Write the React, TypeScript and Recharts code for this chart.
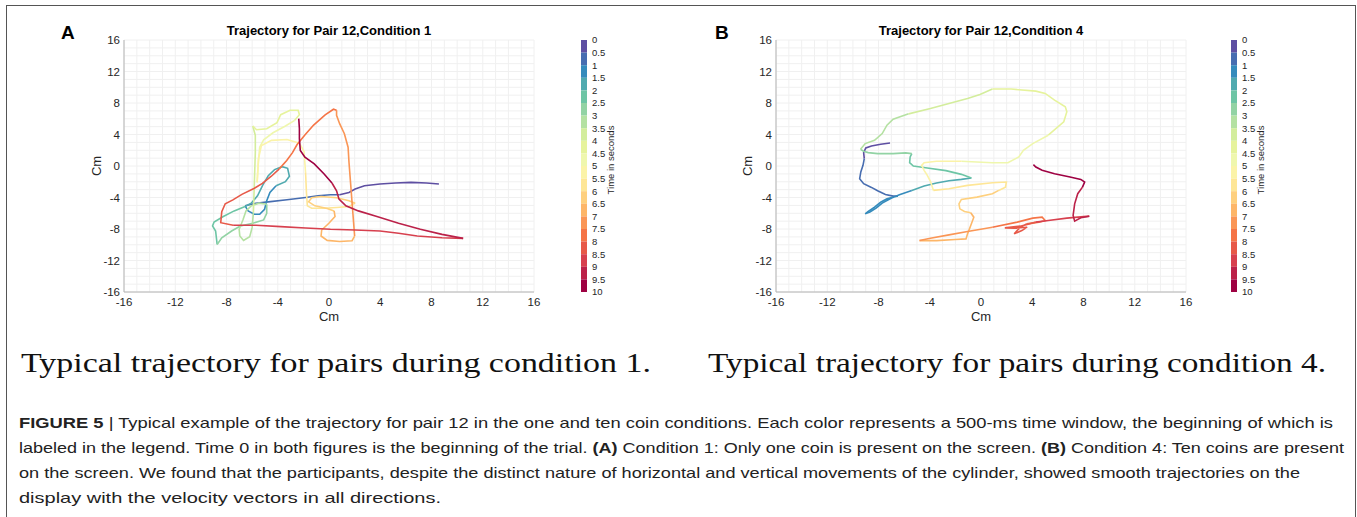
import React from 'react';
import { ScatterChart, Scatter, XAxis, YAxis, CartesianGrid, BarChart, Bar } from 'recharts';

type P = [number, number];

// time bands of the colour bar (seconds) and their colours
const timeLabels = [0, 0.5, 1, 1.5, 2, 2.5, 3, 3.5, 4, 4.5, 5, 5.5, 6, 6.5, 7, 7.5, 8, 8.5, 9, 9.5, 10];
const bandColors = [
  '#5e4fa2', '#476db0', '#358bbc', '#50aaaf', '#6dc5a5', '#92d3a4', '#b4e1a2', '#d3ed9c', '#e6f39c', '#eff7ad',
  '#fbf3a8', '#fee696', '#fed07e', '#fdb668', '#fa9656', '#f57446', '#e75948', '#d7404e', '#bb2149', '#9e0142',
];

const axisTicks = [-16, -12, -8, -4, 0, 4, 8, 12, 16];
const gridTicks = [-16, -15, -14, -13, -12, -11, -10, -9, -8, -7, -6, -5, -4, -3, -2, -1, 0, 1, 2, 3, 4, 5, 6, 7, 8, 9, 10, 11, 12, 13, 14, 15, 16];

// Condition 1 trajectory, one list of (x, y) in cm per 0.5 s window
const trajA: P[][] = [
  [[8.58, -2.29], [7.61, -2.16], [6.4, -2.08], [5.19, -2.16], [3.98, -2.29], [2.77, -2.51], [2.04, -2.93], [1.56, -3.36], [0.83, -3.66]],
  [[0.83, -3.66], [0.11, -3.66], [-0.86, -3.78], [-1.83, -3.99], [-3.28, -4.29], [-4.74, -4.55], [-5.7, -4.72], [-6.55, -5.06]],
  [[-6.55, -5.06], [-6.31, -5.7], [-5.83, -6.13], [-5.41, -6.13], [-5.03, -5.49], [-4.86, -4.42], [-4.61, -3.36], [-4.13, -2.51]],
  [[-4.13, -2.51], [-3.4, -1.99], [-3.09, -1.31], [-3.23, -0.29], [-3.65, -0.08], [-4.25, -0.46], [-4.74, -1.23], [-5.17, -2.42], [-5.58, -3.78], [-6.07, -4.72], [-6.55, -5.15]],
  [[-6.55, -5.15], [-7.4, -5.7], [-8.25, -6.42], [-8.97, -7.11], [-9.09, -7.62], [-8.85, -8.25], [-8.73, -9.96]],
  [[-8.73, -9.96], [-8.37, -9.11], [-7.6, -8.25], [-6.92, -7.62], [-5.95, -7.27], [-5.1, -6.85], [-4.86, -6.0], [-4.86, -4.85]],
  [[-4.86, -4.85], [-5.46, -4.72], [-6.07, -5.06], [-6.48, -5.7], [-6.72, -6.85], [-7.01, -8.04], [-6.96, -8.89], [-6.67, -9.45], [-6.19, -8.98], [-6.0, -7.83], [-5.9, -5.91]],
  [[-5.9, -5.91], [-5.85, -3.36], [-5.8, -0.8], [-5.75, 1.75], [-5.75, 3.88], [-5.95, 5.08]],
  [[-5.95, 5.08], [-5.66, 4.61], [-4.86, 4.73], [-4.06, 5.5], [-3.77, 6.52], [-3.04, 7.08], [-2.41, 7.08], [-2.31, 6.52], [-2.68, 5.8]],
  [[-2.68, 5.8], [-3.4, 5.08], [-4.37, 4.22], [-5.1, 3.33], [-5.41, 2.39], [-5.51, 0.48], [-5.61, -2.08]],
  [[-5.61, -2.08], [-5.51, 0.9], [-5.27, 2.61], [-4.49, 3.25], [-3.28, 3.37], [-2.31, 2.9], [-1.95, 1.84], [-1.83, -0.8]],
  [[-1.83, -0.8], [-1.76, -3.36], [-1.69, -5.06], [-1.35, -5.36], [-0.38, -5.36], [0.59, -5.27], [1.56, -5.15], [2.04, -4.72]],
  [[2.04, -4.72], [1.56, -4.42], [0.59, -4.04], [-0.62, -3.87], [-1.35, -4.04], [-1.59, -4.55], [-1.1, -5.06], [-0.14, -5.4], [0.4, -5.7]],
  [[0.4, -5.7], [0.47, -6.42], [-0.01, -7.27], [-0.57, -8.13], [-0.62, -8.89], [-0.14, -9.45], [0.83, -9.58], [1.8, -9.49], [2.0, -8.89]],
  [[2.0, -8.89], [1.92, -7.19], [1.8, -4.63], [1.68, -2.08], [1.56, 0.48], [1.49, 2.39], [1.2, 4.1], [0.83, 5.37], [0.59, 6.44], [0.59, 7.08]],
  [[0.59, 7.08], [0.35, 7.21], [-0.3, 6.5], [-1.2, 5.2], [-1.9, 3.9], [-2.5, 2.7], [-2.85, 1.7], [-3.3, 0.7], [-3.9, -0.4]],
  [[-3.9, -0.4], [-4.5, -1.3], [-5.2, -2.2], [-5.9, -2.9], [-6.8, -3.6], [-7.5, -4.3], [-8.1, -4.8], [-8.37, -5.8], [-8.45, -7.2], [-7.48, -7.53]],
  [[-7.48, -7.53], [-5.7, -7.53], [-3.77, -7.7], [-1.83, -7.87], [0.11, -8.04], [2.04, -8.13], [3.98, -8.25], [5.43, -8.55], [6.89, -8.89], [8.82, -9.11], [10.47, -9.19]],
  [[10.47, -9.19], [8.82, -8.68], [7.13, -8.04], [5.43, -7.27], [3.74, -6.42], [2.29, -5.7], [1.32, -5.06], [0.78, -4.21], [0.59, -3.14], [0.23, -2.16]],
  [[0.23, -2.16], [-0.38, -1.01], [-1.15, 0.26], [-1.88, 1.11], [-2.24, 1.97], [-2.31, 3.46], [-2.31, 4.73], [-2.36, 6.01]],
];

// Condition 4 trajectory
const trajB: P[][] = [
  [[-7.1, 2.93], [-7.83, 2.76], [-8.55, 2.55], [-8.99, 2.29], [-9.16, 1.7], [-9.11, 0.93]],
  [[-9.11, 0.93], [-9.21, 0.08], [-9.38, -0.76], [-9.47, -1.61], [-9.16, -2.25], [-8.55, -2.72], [-8.07, -3.14], [-7.46, -3.61], [-6.86, -3.82], [-6.49, -3.82]],
  [[-6.49, -3.82], [-7.34, -4.16], [-7.83, -4.59], [-8.31, -5.22], [-8.8, -5.77], [-9.04, -6.07], [-8.67, -5.86], [-8.19, -5.35], [-7.71, -4.71], [-6.98, -4.08], [-6.37, -3.65], [-5.4, -3.1]],
  [[-5.4, -3.1], [-4.44, -2.55], [-3.47, -2.17], [-2.5, -1.87], [-1.53, -1.7], [-0.75, -1.53]],
  [[-0.75, -1.53], [-1.53, -1.06], [-2.74, -0.59], [-4.19, -0.25], [-5.28, 0.0], [-5.57, 0.42], [-5.53, 1.15], [-5.4, 1.57]],
  [[-5.4, 1.57], [-5.89, 1.66], [-6.86, 1.57], [-8.07, 1.57], [-8.8, 1.7], [-9.16, 1.87], [-9.4, 2.12]],
  [[-9.4, 2.12], [-9.04, 2.85], [-8.31, 3.27], [-7.71, 4.12], [-7.34, 5.18], [-6.86, 5.94], [-5.65, 6.62]],
  [[-5.65, 6.62], [-3.95, 7.3], [-2.5, 7.94], [-1.05, 8.58], [-0.08, 9.09], [0.89, 9.77]],
  [[0.89, 9.77], [2.35, 9.77], [4.28, 9.51], [5.01, 9.21], [5.74, 8.37], [6.58, 7.52], [6.7, 6.88], [6.46, 5.61], [5.25, 3.91]],
  [[5.25, 3.91], [4.04, 2.85], [3.31, 2.0], [2.95, 1.15], [2.1, 0.42], [0.89, 0.42], [-1.53, 0.6]],
  [[-1.53, 0.6], [-3.47, 0.6], [-4.44, 0.42], [-4.63, 0.08], [-4.44, -0.55], [-4.19, -1.19], [-3.95, -1.95], [-3.71, -3.1]],
  [[-3.71, -3.1], [-2.5, -2.89], [-1.05, -2.46], [0.89, -2.12], [1.98, -2.04], [1.91, -2.68], [1.38, -3.1]],
  [[1.38, -3.1], [0.89, -3.52], [-0.32, -3.95], [-1.53, -4.25], [-1.72, -4.8], [-1.65, -5.44], [-1.29, -5.77], [-0.8, -5.94]],
  [[-0.8, -5.94], [-0.56, -6.5], [-0.8, -7.56], [-1.05, -8.62], [-1.17, -9.26], [-2.01, -9.34], [-3.47, -9.47], [-4.8, -9.47]],
  [[-4.8, -9.47], [-3.95, -9.17], [-2.5, -8.75], [-1.05, -8.32], [0.89, -7.77]],
  [[0.89, -7.77], [2.83, -7.13], [4.04, -6.62], [4.77, -6.5], [5.01, -6.92], [4.52, -7.13], [3.56, -7.35]],
  [[3.56, -7.35], [3.07, -7.77], [2.59, -8.62], [3.19, -8.2], [3.6, -7.77], [2.59, -7.9], [1.86, -7.86], [3.07, -7.64], [4.28, -7.13]],
  [[4.28, -7.13], [5.25, -6.92], [6.7, -6.62], [8.45, -6.37]],
  [[8.45, -6.37], [7.79, -6.58], [7.31, -7.0], [7.19, -6.28], [7.31, -4.8], [7.55, -3.52], [7.92, -2.68]],
  [[7.92, -2.68], [8.09, -2.04], [7.79, -1.7], [6.95, -1.4], [5.74, -0.98], [4.77, -0.55], [4.28, -0.13], [4.09, 0.17]],
];

const FONT = 'Liberation Sans, Arial, sans-serif';
const tickStyle = { fontSize: 11.5, fill: '#262626', fontFamily: FONT };
const fmt = (v: number) => (axisTicks.includes(v) ? String(v) : '');
const noDot = () => <g />;
const BOX = '#b4b4b4';

function Trajectory({ segs, ml, mr }: { segs: P[][]; ml: number; mr: number }) {
  return (
    <ScatterChart width={640} height={330} margin={{ top: 40, bottom: 8, left: ml, right: mr }}>
      <CartesianGrid stroke="#f0f0f0" strokeWidth={1} />
      <XAxis type="number" dataKey="x" domain={[-16, 16]} ticks={gridTicks} interval={0} tickFormatter={fmt}
        tickSize={0} tickMargin={6} height={30} tick={tickStyle} axisLine={{ stroke: BOX }} allowDataOverflow />
      <YAxis type="number" dataKey="y" domain={[-16, 16]} ticks={gridTicks} interval={0} tickFormatter={fmt}
        tickSize={0} tickMargin={4} width={30} tick={tickStyle} axisLine={{ stroke: BOX }} allowDataOverflow />
      <XAxis xAxisId="top" orientation="top" type="number" domain={[-16, 16]} ticks={axisTicks} height={0}
        tick={false} tickLine={false} axisLine={{ stroke: BOX }} />
      <YAxis yAxisId="right" orientation="right" type="number" domain={[-16, 16]} ticks={axisTicks} width={0}
        tick={false} tickLine={false} axisLine={{ stroke: BOX }} />
      {segs.map((seg, i) => (
        <Scatter key={i} data={seg.map(([x, y]) => ({ x, y }))} fill={bandColors[i]}
          line={{ stroke: bandColors[i], strokeWidth: 1.6 }} shape={noDot} isAnimationActive={false} />
      ))}
    </ScatterChart>
  );
}

function ColorBar() {
  const row: Record<string, number | string> = { name: 'bar' };
  bandColors.forEach((_, i) => {
    row['b' + i] = timeLabels[i + 1] - timeLabels[i];
  });
  return (
    <BarChart width={60} height={330} data={[row]} margin={{ top: 40, bottom: 38, left: 11, right: 13 }}
      barCategoryGap={0} barGap={0}>
      <XAxis dataKey="name" hide />
      <YAxis type="number" domain={[0, 10]} reversed orientation="right" ticks={timeLabels} interval={0}
        tickSize={0} tickMargin={5} axisLine={false} width={30}
        tick={{ fontSize: 9.5, fill: '#262626', fontFamily: FONT, textAnchor: 'start' }} />
      {bandColors.map((c, i) => (
        <Bar key={i} dataKey={'b' + i} stackId="s" fill={c} isAnimationActive={false} />
      ))}
    </BarChart>
  );
}

const capLines = [
  { end: 1333 },
  { end: 1344 },
  { end: 1300 },
  { end: 441 },
];

export default function App() {
  return (
    <div style={{ position: 'absolute', left: 0, top: 0, width: 1357, height: 517, background: '#fff', overflow: 'hidden' }}>
      <div style={{ position: 'absolute', left: 6, top: 5, width: 1350, height: 600, borderLeft: '1.5px solid #555',
        borderTop: '1.5px solid #555', borderRight: '1.5px solid #555', boxSizing: 'border-box' }} />
      <div style={{ position: 'absolute', left: 0, top: 0 }}>
        <Trajectory segs={trajA} ml={94} mr={106} />
      </div>
      <div style={{ position: 'absolute', left: 650, top: 0 }}>
        <Trajectory segs={trajB} ml={96} mr={104} />
      </div>
      <div style={{ position: 'absolute', left: 570, top: 0 }}>
        <ColorBar />
      </div>
      <div style={{ position: 'absolute', left: 1220, top: 0 }}>
        <ColorBar />
      </div>
      <svg width={1357} height={517} style={{ position: 'absolute', left: 0, top: 0, pointerEvents: 'none' }}>
        <g fontFamily={FONT} fill="#000">
          <text x={61} y={39} fontSize={19} fontWeight="bold">A</text>
          <text x={715} y={39} fontSize={19} fontWeight="bold">B</text>
          <text x={329} y={35} fontSize={13} fontWeight="bold" textAnchor="middle">Trajectory for Pair 12,Condition 1</text>
          <text x={981} y={35} fontSize={13} fontWeight="bold" textAnchor="middle">Trajectory for Pair 12,Condition 4</text>
          <text x={329} y={321} fontSize={13} textAnchor="middle" fill="#262626">Cm</text>
          <text x={981} y={321} fontSize={13} textAnchor="middle" fill="#262626">Cm</text>
          <text transform="translate(101,166) rotate(-90)" fontSize={13} textAnchor="middle" fill="#262626">Cm</text>
          <text transform="translate(752,166) rotate(-90)" fontSize={13} textAnchor="middle" fill="#262626">Cm</text>
          <text transform="translate(614,160) rotate(-90)" fontSize={9.5} textAnchor="middle" fill="#262626">Time in seconds</text>
          <text transform="translate(1264,160) rotate(-90)" fontSize={9.5} textAnchor="middle" fill="#262626">Time in seconds</text>
        </g>
        <g fontFamily="Liberation Serif, 'DejaVu Serif', serif" fill="#111" fontSize={28}>
          <text x={21} y={372} textLength={630} lengthAdjust="spacingAndGlyphs">Typical trajectory for pairs during condition 1.</text>
          <text x={708} y={372} textLength={618} lengthAdjust="spacingAndGlyphs">Typical trajectory for pairs during condition  4.</text>
        </g>
        <g fontFamily={FONT} fill="#222" fontSize={15}>
          <text x={19} y={428} textLength={capLines[0].end - 19} lengthAdjust="spacingAndGlyphs">
            <tspan fontWeight="bold">FIGURE 5</tspan> | Typical example of the trajectory for pair 12 in the one and ten coin conditions. Each color represents a 500-ms time window, the beginning of which is
          </text>
          <text x={19} y={453} textLength={capLines[1].end - 19} lengthAdjust="spacingAndGlyphs">
            labeled in the legend. Time 0 in both figures is the beginning of the trial. <tspan fontWeight="bold">(A)</tspan> Condition 1: Only one coin is present on the screen. <tspan fontWeight="bold">(B)</tspan> Condition 4: Ten coins are present
          </text>
          <text x={19} y={478} textLength={capLines[2].end - 19} lengthAdjust="spacingAndGlyphs">
            on the screen. We found that the participants, despite the distinct nature of horizontal and vertical movements of the cylinder, showed smooth trajectories on the
          </text>
          <text x={19} y={503} textLength={capLines[3].end - 19} lengthAdjust="spacingAndGlyphs">
            display with the velocity vectors in all directions.
          </text>
        </g>
      </svg>
    </div>
  );
}
